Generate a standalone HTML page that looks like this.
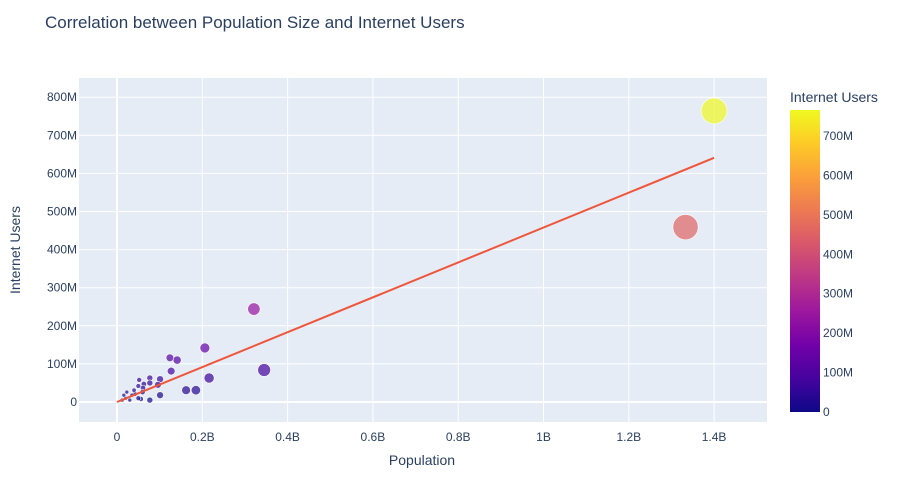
<!DOCTYPE html>
<html><head><meta charset="utf-8"><style>
body{margin:0;background:#fff;font-family:"Liberation Sans",sans-serif;}
svg text{font-family:"Liberation Sans",sans-serif;fill:#2a3f5f;}
</style></head><body>
<svg width="905" height="485">
<defs><linearGradient id="plasma" x1="0" y1="1" x2="0" y2="0">
<stop offset="0" stop-color="#0d0887"/><stop offset="0.111" stop-color="#46039f"/><stop offset="0.222" stop-color="#7201a8"/><stop offset="0.333" stop-color="#9c179e"/><stop offset="0.444" stop-color="#bd3786"/><stop offset="0.556" stop-color="#d8576b"/><stop offset="0.667" stop-color="#ed7953"/><stop offset="0.778" stop-color="#fb9f3a"/><stop offset="0.889" stop-color="#fdca26"/><stop offset="1" stop-color="#f0f921"/></linearGradient></defs>
<text x="45" y="28" font-size="17">Correlation between Population Size and Internet Users</text>
<rect x="79" y="78" width="688" height="344" fill="#e5ecf6"/>
<g id="grid"></g><g id="marks"></g><g id="ticks"></g>
<text x="422" y="465" font-size="14" text-anchor="middle">Population</text>
<text transform="translate(20,250) rotate(-90)" font-size="14" text-anchor="middle">Internet Users</text>
<text x="790" y="102" font-size="14">Internet Users</text>
<rect x="790" y="110" width="30" height="302" fill="url(#plasma)"/>
<g id="cbticks"></g>
</svg>
<script>
const pops=[1.40,1.333,0.321,0.345,0.216,0.185,0.162,0.206,0.141,0.124,0.127,0.101,0.101,0.077,0.077,0.077,0.096,0.063,0.061,0.05,0.052,0.04,0.035,0.05,0.056,0.03,0.02,0.012,0.023,0.016,0.042,0.06];
const users=[764,459,244,84,63,31,31,142,110,116,81,60,18,5,63,50,45,47,37,42,58,31,18,10,8,5,10,5,26,18,21,26];
const xTicks=[0,0.2,0.4,0.6,0.8,1,1.2,1.4];
const xLabels=["0","0.2B","0.4B","0.6B","0.8B","1B","1.2B","1.4B"];
const yTicks=[0,100,200,300,400,500,600,700,800];
const yLabels=["0","100M","200M","300M","400M","500M","600M","700M","800M"];
const trend=[[0,0],[1.40,641]];
const cbMax=766;
const ns="http://www.w3.org/2000/svg";
const X=p=>117+p*426.5, Y=u=>402-u*0.381;
function mk(t,a,parent){const e=document.createElementNS(ns,t);for(const k in a)e.setAttribute(k,a[k]);document.getElementById(parent).appendChild(e);return e;}
xTicks.forEach((t,i)=>{
 const l=mk('line',{x1:X(t),x2:X(t),y1:78,y2:422,stroke:'#fff','stroke-width':t===0?2:1},'grid');
 
 
 const tx=mk('text',{x:X(t),y:441,'font-size':12,'text-anchor':'middle'},'ticks');tx.textContent=xLabels[i];
 
 
});
yTicks.forEach((t,i)=>{
 const l=mk('line',{x1:79,x2:767,y1:Y(t),y2:Y(t),stroke:'#fff','stroke-width':t===0?2:1},'grid');
 
 
 const tx=mk('text',{x:77,y:Y(t)+4,'font-size':12,'text-anchor':'end'},'ticks');tx.textContent=yLabels[i];
 
 
});
const stops=[[13,8,135],[70,3,159],[114,1,168],[156,23,158],[189,55,134],[216,87,107],[237,121,83],[251,159,58],[253,202,38],[240,249,33]];
function col(v){let f=Math.max(0,Math.min(1,v/cbMax))*9;const i=Math.min(8,Math.floor(f)),r=f-i;const a=stops[i],b=stops[i+1];return `rgb(${a.map((c,k)=>Math.round(c+(b[k]-c)*r)).join(',')})`;}
const order=pops.map((p,i)=>i).sort((a,b)=>pops[b]-pops[a]);
order.forEach(i=>{
 const c=mk('circle',{cx:X(pops[i]),cy:Y(users[i]),r:Math.max(2,13*Math.sqrt(pops[i]/1.41)),fill:col(users[i]),'fill-opacity':0.7,stroke:'#fff','stroke-width':0.6},'marks');
 
 
});
const tl=mk('line',{x1:X(trend[0][0]),y1:Y(trend[0][1]),x2:X(trend[1][0]),y2:Y(trend[1][1]),stroke:'#ef553b','stroke-width':2},'marks');


[0,100,200,300,400,500,600,700].forEach((v,i)=>{
 const t=mk('text',{x:823,y:412-v*(302/cbMax)+4,'font-size':12},'cbticks');t.textContent=yLabels[i];
 
 
});
</script>
</body></html>
